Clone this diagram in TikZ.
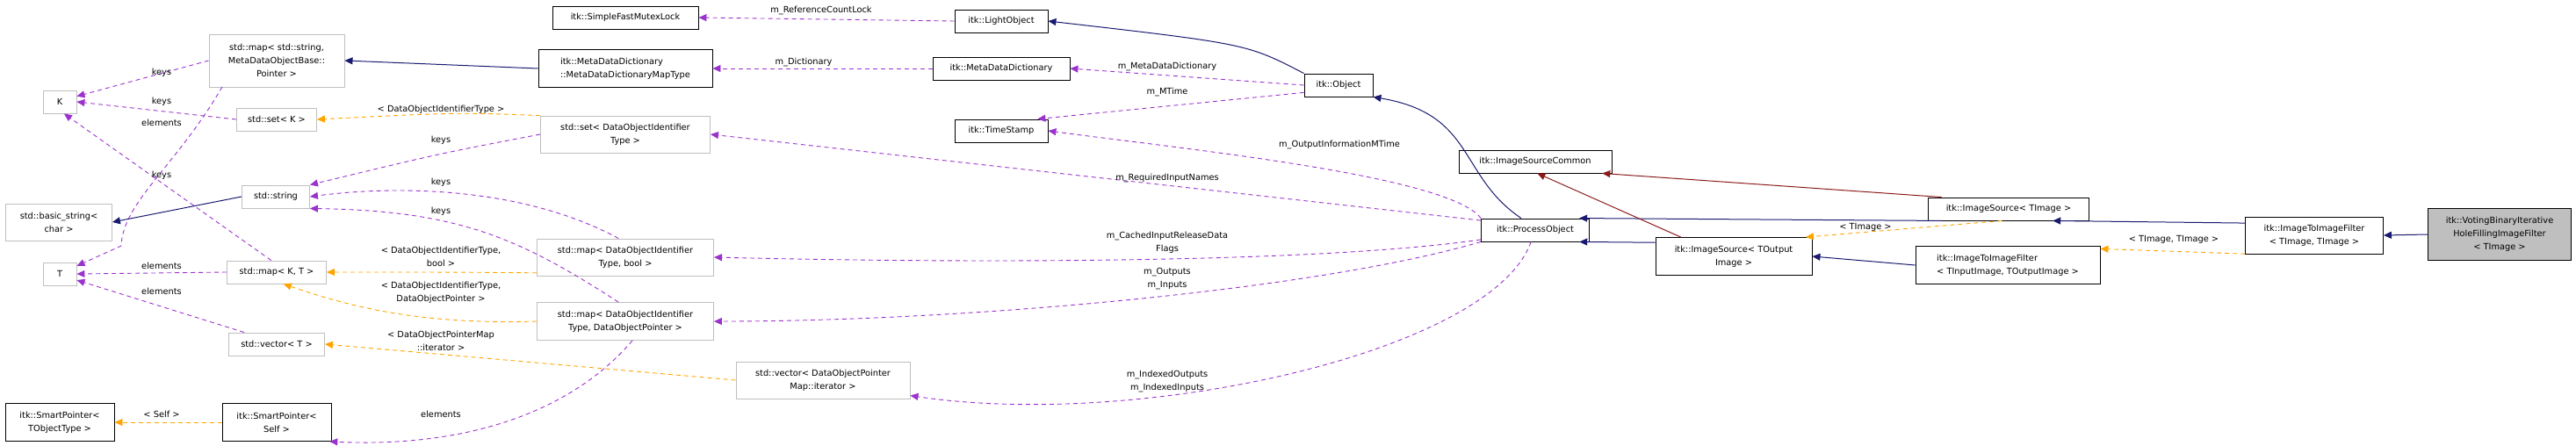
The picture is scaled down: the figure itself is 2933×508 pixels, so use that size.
\documentclass[tikz,border=0pt]{standalone}
\usepackage{fontspec}
\setmainfont{DejaVu Sans}
\usetikzlibrary{arrows.meta}
\definecolor{pur}{HTML}{9A32CD}
\definecolor{ora}{HTML}{FFA500}
\definecolor{nav}{HTML}{191970}
\definecolor{drd}{HTML}{8B1A1A}
\definecolor{gbd}{HTML}{BFBFBF}
\begin{document}
\begin{tikzpicture}[x=1pt,y=-1pt,
  font=\fontsize{9.8}{15}\selectfont,
  bx/.style={draw=black,line width=0.9pt,fill=white,inner sep=1pt,align=center,minimum height=26pt},
  gb/.style={draw=gbd,line width=0.9pt,fill=white,inner sep=1pt,align=center,minimum height=26pt},
  tip/.style={-{Triangle[length=9pt,width=8pt]}},
  pe/.style={tip,pur,dashed,dash pattern=on 5pt off 4pt,line width=0.9pt},
  oe/.style={tip,ora,dashed,dash pattern=on 5pt off 4pt,line width=0.9pt},
  ne/.style={tip,nav,line width=1pt},
  re/.style={tip,drd,line width=1pt},
  lb/.style={font=\fontsize{9.8}{15}\selectfont,text=black,align=center,inner sep=0pt}]
\useasboundingbox (0,0) rectangle (2933,508);
% nodes
\node[bx,minimum width=166pt] (sfml) at (712,20) {itk::SimpleFastMutexLock};
\node[gb,minimum width=154pt,minimum height=60pt] (mapstr) at (315,69) {std::map\textless{} std::string,\\MetaDataObjectBase::\\Pointer \textgreater};
\node[bx,minimum width=198pt,minimum height=43pt,align=left] (mddmap) at (712,78) {itk::MetaDataDictionary\\::MetaDataDictionaryMapType};
\node[gb,minimum width=38pt] (K) at (68,116) {K};
\node[gb,minimum width=91pt] (setK) at (315,136) {std::set\textless{} K \textgreater};
\node[gb,minimum width=193pt,minimum height=42pt] (setdo) at (712,153) {std::set\textless{} DataObjectIdentifier\\Type \textgreater};
\node[gb,minimum width=77pt] (str) at (314,224) {std::string};
\node[gb,minimum width=121pt,minimum height=42pt] (bstr) at (67,253) {std::basic\_string\textless\\char \textgreater};
\node[gb,minimum width=38pt] (T) at (68,312) {T};
\node[gb,minimum width=113pt] (mapKT) at (315,310) {std::map\textless{} K, T \textgreater};
\node[gb,minimum width=201pt,minimum height=42pt] (mapbool) at (712,293) {std::map\textless{} DataObjectIdentifier\\Type, bool \textgreater};
\node[gb,minimum width=201pt,minimum height=43pt] (mapdop) at (712,366) {std::map\textless{} DataObjectIdentifier\\Type, DataObjectPointer \textgreater};
\node[gb,minimum width=109pt] (vecT) at (315,392) {std::vector\textless{} T \textgreater};
\node[gb,minimum width=198pt,minimum height=42pt] (vecit) at (937,433) {std::vector\textless{} DataObjectPointer\\Map::iterator \textgreater};
\node[bx,minimum width=124pt,minimum height=43pt] (spt) at (68,481) {itk::SmartPointer\textless\\TObjectType \textgreater};
\node[bx,minimum width=124pt,minimum height=43pt] (sps) at (315,481) {itk::SmartPointer\textless\\Self \textgreater};
\node[bx,minimum width=106pt] (light) at (1140,24) {itk::LightObject};
\node[bx,minimum width=156pt] (mdd) at (1140,78) {itk::MetaDataDictionary};
\node[bx,minimum width=106pt] (ts) at (1140,149) {itk::TimeStamp};
\node[bx,minimum width=78pt] (obj) at (1524,97) {itk::Object};
\node[bx,minimum width=174pt] (isc) at (1748,184) {itk::ImageSourceCommon};
\node[bx,minimum width=123pt] (po) at (1748,262) {itk::ProcessObject};
\node[bx,minimum width=183pt] (isti) at (2287,238) {itk::ImageSource\textless{} TImage \textgreater};
\node[bx,minimum width=178pt,minimum height=43pt] (isto) at (1974,292) {itk::ImageSource\textless{} TOutput\\Image \textgreater};
\node[bx,minimum width=210pt,minimum height=43pt,align=left] (itiio) at (2286,302) {itk::ImageToImageFilter\\\textless{} TInputImage, TOutputImage \textgreater};
\node[bx,minimum width=157pt,minimum height=42pt] (itiTT) at (2635,268) {itk::ImageToImageFilter\\\textless{} TImage, TImage \textgreater};
\node[bx,fill=gbd,minimum width=163pt,minimum height=59pt] (vote) at (2846,267) {itk::VotingBinaryIterative\\HoleFillingImageFilter\\\textless{} TImage \textgreater};
% edges
\draw[pe] (light.west) -- (sfml.east);
\node[lb] at (935,12) {m\_ReferenceCountLock};
\draw[ne] (obj.north west) .. controls (1420,50) .. (light.east);
\draw[pe] (obj.west) -- (mdd.east);
\node[lb] at (1329,76) {m\_MetaDataDictionary};
\draw[pe] (obj.192) -- (ts.18);
\node[lb] at (1329,105) {m\_MTime};
\draw[pe] (po.north west) .. controls (1650,200) and (1350,170) .. (ts.east);
\node[lb] at (1525,165) {m\_OutputInformationMTime};
\draw[ne] (po.140) .. controls (1660,200) and (1680,130) .. (obj.south east);
\draw[pe] (mdd.west) -- (mddmap.east);
\node[lb] at (915,71) {m\_Dictionary};
\draw[ne] (mddmap.west) -- (mapstr.east);
\draw[pe] (mapstr.west) -- (K.18);
\node[lb] at (184,83) {keys};
\draw[pe] (253,99) .. controls (200,190) and (140,230) .. (138,280) -- (T.25);
\node[lb] at (184,140) {elements};
\draw[pe] (setK.west) -- (K.east);
\node[lb] at (184,116) {keys};
\draw[oe] (setdo.north west) .. controls (520,128) .. (setK.east);
\node[lb] at (502,125) {\textless{} DataObjectIdentifierType \textgreater};
\draw[pe] (setdo.west) .. controls (500,175) .. (str.north east);
\node[lb] at (502,160) {keys};
\draw[pe] (po.170) -- (setdo.east);
\node[lb] at (1329,203) {m\_RequiredInputNames};
\draw[ne] (str.west) -- (bstr.east);
\draw[pe] (mapKT.115) -- (K.-70);
\node[lb] at (184,200) {keys};
\draw[pe] (mapKT.west) -- (T.east);
\node[lb] at (184,303) {elements};
\draw[pe] (vecT.160) -- (T.-20);
\node[lb] at (184,332) {elements};
\draw[pe] (mapbool.110) .. controls (600,215) and (460,210) .. (str.east);
\node[lb] at (502,208) {keys};
\draw[pe] (mapdop.110) .. controls (590,270) and (520,240) .. (str.south east);
\node[lb] at (502,241) {keys};
\draw[oe] (mapbool.-170) .. controls (520,310) .. (mapKT.east);
\node[lb] at (502,292) {\textless{} DataObjectIdentifierType,\\bool \textgreater};
\draw[oe] (mapdop.west) .. controls (480,370) and (400,350) .. (mapKT.-60);
\node[lb] at (502,333) {\textless{} DataObjectIdentifierType,\\DataObjectPointer \textgreater};
\draw[oe] (vecit.west) -- (vecT.east);
\node[lb] at (502,388) {\textless{} DataObjectPointerMap\\::iterator \textgreater};
\draw[pe] (mapdop.-70) .. controls (650,470) and (530,510) .. (sps.-20);
\node[lb] at (502,472) {elements};
\draw[oe] (sps.west) -- (spt.east);
\node[lb] at (184,472) {\textless{} Self \textgreater};
\draw[pe] (po.-170) .. controls (1500,300) and (1100,300) .. (mapbool.east);
\node[lb] at (1329,276) {m\_CachedInputReleaseData\\Flags};
\draw[pe] (po.south west) .. controls (1500,330) and (1100,366) .. (mapdop.east);
\node[lb] at (1329,318) {m\_Outputs\\m\_Inputs};
\draw[pe] (po.-110) .. controls (1700,400) and (1300,490) .. (vecit.-10);
\node[lb] at (1329,434) {m\_IndexedOutputs\\m\_IndexedInputs};
\draw[re] (isti.170) -- (isc.-10);
\draw[ne] (isti.-170) -- (po.15);
\draw[re] (isto.160) -- (isc.-80);
\draw[ne] (isto.170) -- (po.-15);
\draw[oe] (isti.-120) -- (isto.15);
\node[lb] at (2124,259) {\textless{} TImage \textgreater};
\draw[ne] (itiio.west) -- (isto.east);
\draw[ne] (itiTT.170) -- (isti.-15);
\draw[oe] (itiTT.-165) -- (itiio.10);
\node[lb] at (2475,273) {\textless{} TImage, TImage \textgreater};
\draw[ne] (vote.west) -- (itiTT.east);
\end{tikzpicture}
\end{document}
